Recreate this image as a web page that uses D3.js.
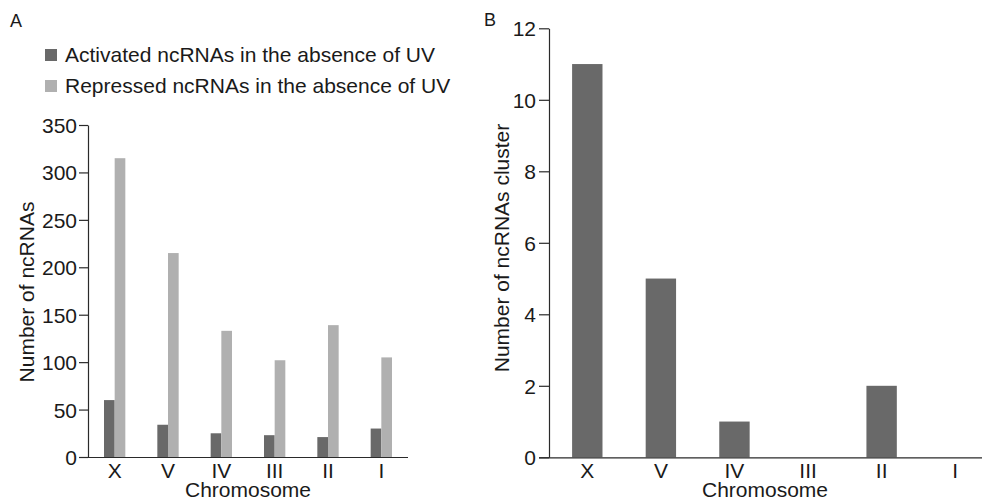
<!DOCTYPE html>
<html>
<head>
<meta charset="utf-8">
<script src="https://cdnjs.cloudflare.com/ajax/libs/d3/7.8.5/d3.min.js"></script>
<style>
  body { margin: 0; background: #fff; }
  text { font-family: "Liberation Sans", Arial, sans-serif; fill: #1a1a1a; }
  .axis path, .axis line { stroke: #2a2a2a; stroke-width: 1.2; }
</style>
</head>
<body>
<div id="chart"></div>
<script>
'use strict';

var chromosomes = ['X', 'V', 'IV', 'III', 'II', 'I'],
    activated = [60, 34, 25, 23, 21, 30],
    repressed = [315, 215, 133, 102, 139, 105],
    clusters = [11, 5, 1, 0, 2, 0],
    ticksA = [0, 50, 100, 150, 200, 250, 300, 350],
    ticksB = [0, 2, 4, 6, 8, 10, 12],
    seriesNames = ['Activated ncRNAs in the absence of UV', 'Repressed ncRNAs in the absence of UV'],
    colors = ['#696969', '#b0b0b0'];

var width = 986, height = 501, fontSize = 21;

var svg = d3.select('#chart').append('svg').attr('width', width).attr('height', height);

// ---- Panel A ----
var xA = d3.scaleBand().domain(chromosomes).range([88, 408]).paddingInner(0.6).paddingOuter(0.3),
    xSub = d3.scaleBand().domain([0, 1]).range([0, xA.bandwidth()]),
    yA = d3.scaleLinear().domain([0, 350]).range([457, 125]);

svg.append('text').attr('x', 10).attr('y', 27).style('font-size', '18px').text('A');

var legend = svg.selectAll('.legend').data(seriesNames).enter().append('g').attr('class', 'legend').attr('transform', function (d, i) {
    return 'translate(45,' + (49 + i * 31) + ')';
});
legend.append('rect').attr('width', 12).attr('height', 12).style('fill', function (d, i) {
    return colors[i];
});
legend.append('text').attr('x', 20).attr('y', 13).style('font-size', fontSize + 'px').text(function (d) {
    return d;
});

var groups = svg.selectAll('.grp').data(chromosomes).enter().append('g').attr('class', 'grp').attr('transform', function (d) {
    return 'translate(' + xA(d) + ',0)';
});
groups.selectAll('rect').data(function (d, i) {
    return [activated[i], repressed[i]];
}).enter().append('rect').attr('x', function (d, j) {
    return xSub(j);
}).attr('width', xSub.bandwidth()).attr('y', function (d) {
    return yA(d);
}).attr('height', function (d) {
    return yA(0) - yA(d);
}).style('fill', function (d, j) {
    return colors[j];
});

var yAxisA = svg.append('g').attr('class', 'axis').attr('transform', 'translate(88,0)')
    .call(d3.axisLeft(yA).tickValues(ticksA).tickSize(9).tickSizeOuter(0).tickPadding(2));
yAxisA.selectAll('text').style('font-size', fontSize + 'px').attr('dy', '0.36em');

var xAxisA = svg.append('g').attr('class', 'axis').attr('transform', 'translate(0,457)')
    .call(d3.axisBottom(xA).tickSize(0).tickPadding(6));
xAxisA.select('.domain').attr('d', 'M80,0.5H408');
xAxisA.selectAll('text').style('font-size', fontSize + 'px');

svg.append('text').attr('x', 248).attr('y', 497).attr('text-anchor', 'middle').style('font-size', fontSize + 'px').text('Chromosome');
svg.append('text').attr('transform', 'translate(34,292) rotate(-90)').attr('text-anchor', 'middle').style('font-size', fontSize + 'px').text('Number of ncRNAs');

// ---- Panel B ----
var xB = d3.scaleBand().domain(chromosomes).range([550.5, 992]).paddingInner(0.587).paddingOuter(0.2935),
    yB = d3.scaleLinear().domain([0, 12]).range([457.3, 28.3]);

svg.append('text').attr('x', 484).attr('y', 26).style('font-size', '18px').text('B');

svg.selectAll('.barB').data(clusters).enter().append('rect').attr('class', 'barB').attr('x', function (d, i) {
    return xB(chromosomes[i]);
}).attr('width', xB.bandwidth()).attr('y', function (d) {
    return yB(d);
}).attr('height', function (d) {
    return yB(0) - yB(d);
}).style('fill', colors[0]);

var yAxisB = svg.append('g').attr('class', 'axis').attr('transform', 'translate(549,0)')
    .call(d3.axisLeft(yB).tickValues(ticksB).tickSize(10).tickSizeOuter(0).tickPadding(3));
yAxisB.selectAll('text').style('font-size', fontSize + 'px').attr('dy', '0.36em');

var xAxisB = svg.append('g').attr('class', 'axis').attr('transform', 'translate(0,457.3)')
    .call(d3.axisBottom(xB).tickSize(0).tickPadding(6));
xAxisB.select('.domain').attr('d', 'M539,0.5H982');
xAxisB.selectAll('text').style('font-size', fontSize + 'px');

svg.append('text').attr('x', 765).attr('y', 497).attr('text-anchor', 'middle').style('font-size', fontSize + 'px').text('Chromosome');
svg.append('text').attr('transform', 'translate(509,248) rotate(-90)').attr('text-anchor', 'middle').style('font-size', fontSize + 'px').text('Number of ncRNAs cluster');
</script>
</body>
</html>
